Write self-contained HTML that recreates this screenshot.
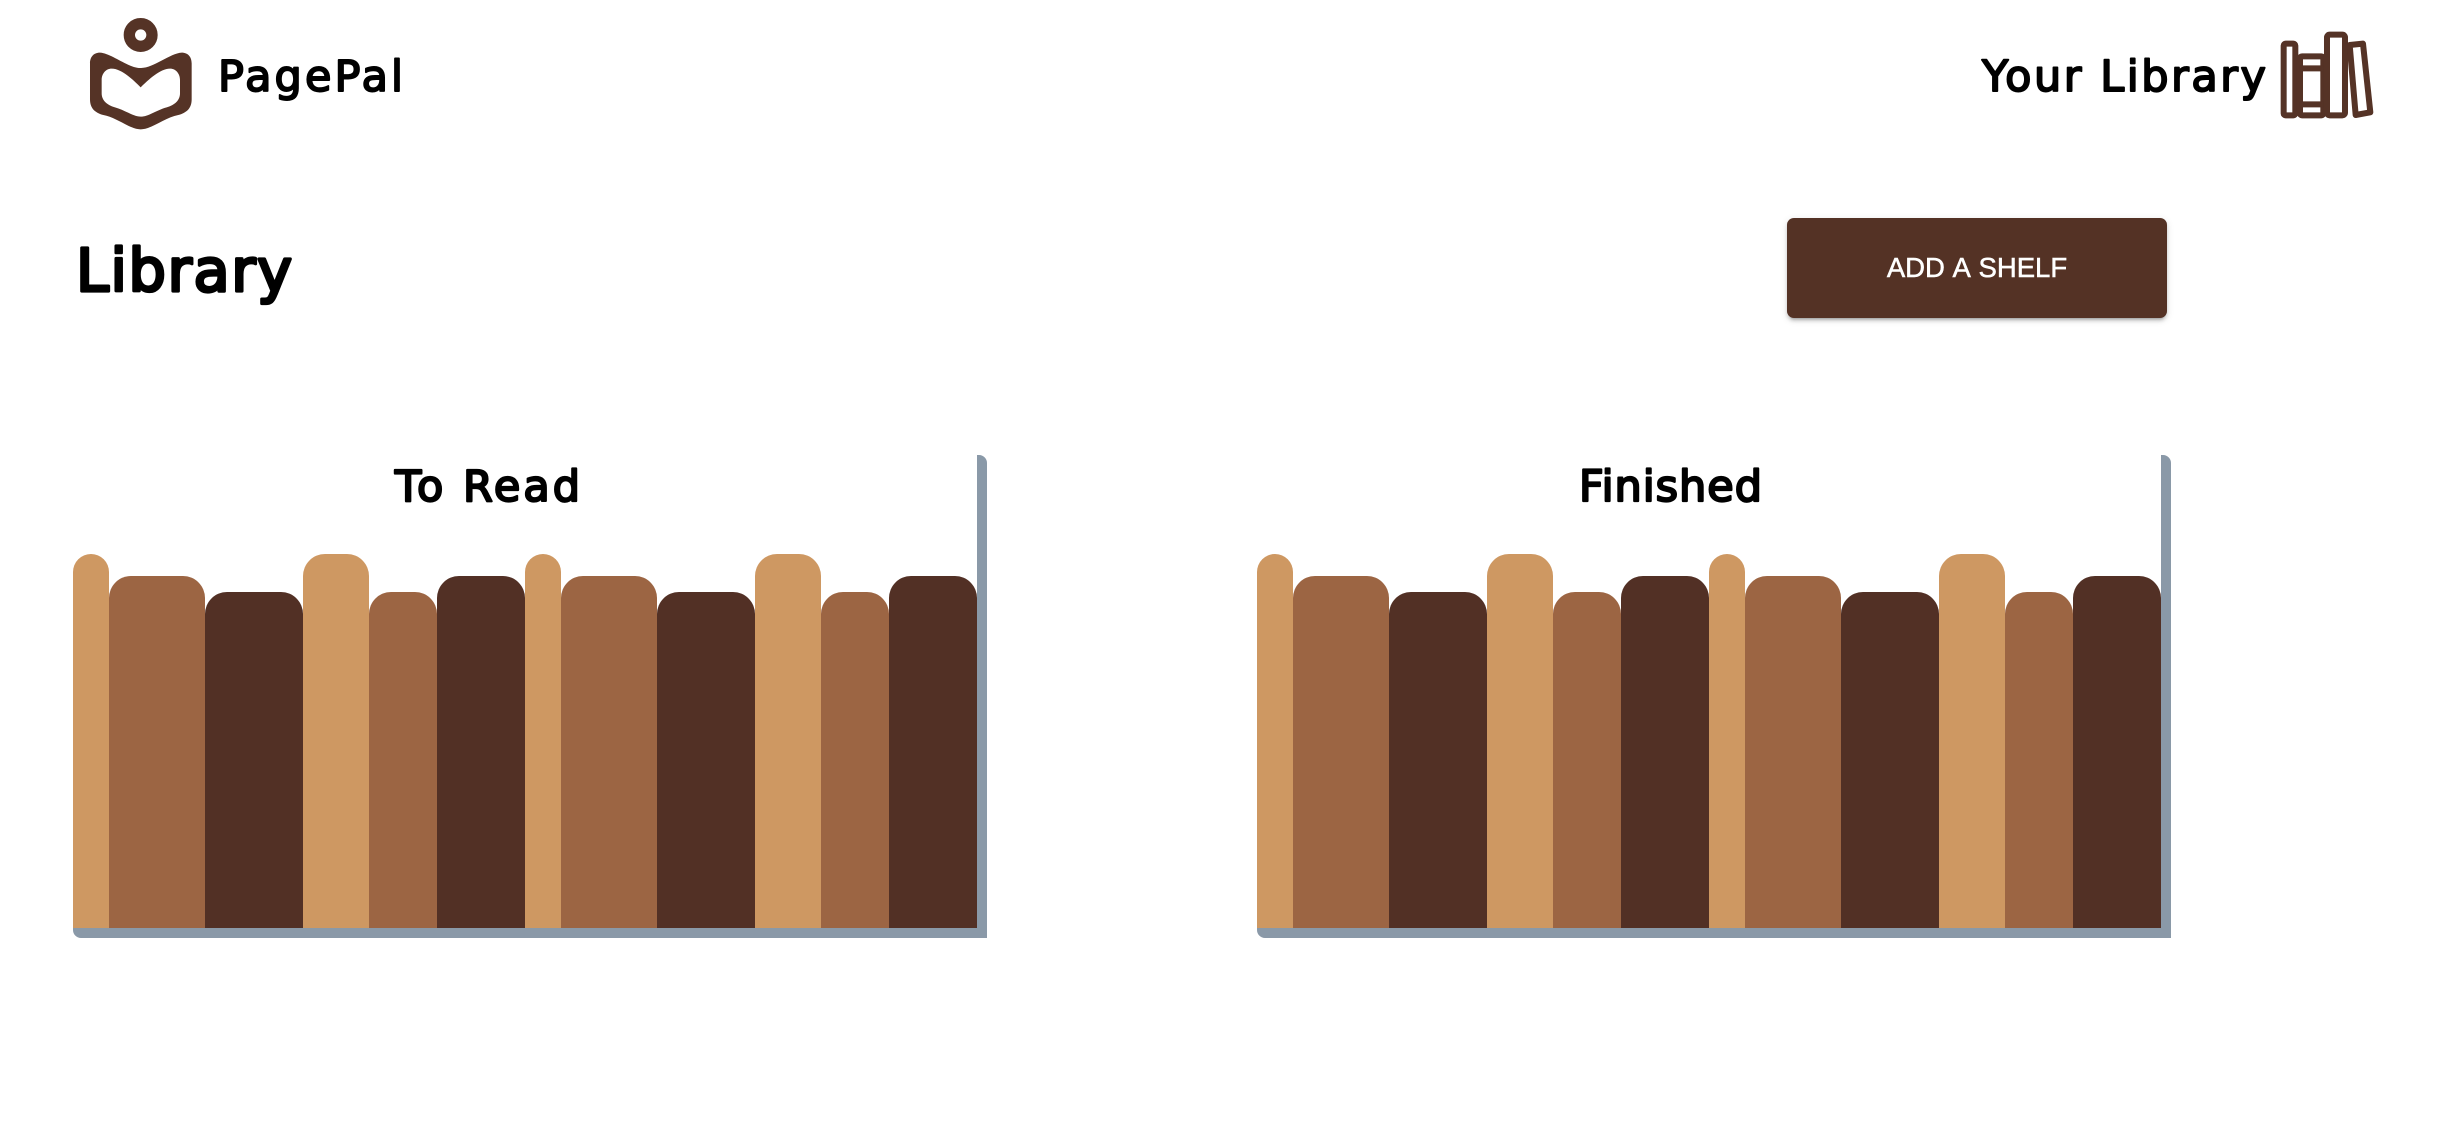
<!DOCTYPE html>
<html lang="en">
<head>
<meta charset="utf-8">
<title>PagePal Library</title>
<style>
  html, body { margin: 0; padding: 0; background: #fff; }
  body { width: 2453px; height: 1128px; overflow: hidden; position: relative; font-family: "Liberation Sans", sans-serif; }
  #page { position: absolute; left: 0; top: 0; width: 2453px; height: 1128px; display: block; }
  .txt { font-family: "DejaVu Sans", "Liberation Sans", sans-serif; fill: #000; stroke: #000; stroke-linejoin: round; stroke-linecap: round; }
  .brand { font-size: 43px; stroke-width: 1.9px; }
  .heading { font-size: 59px; stroke-width: 3.2px; }
  .shelf-title { font-size: 43px; stroke-width: 2.2px; }
  .tone-0 { fill: #ce9862; }
  .tone-1 { fill: #9c6543; }
  .tone-2 { fill: #523025; }
  .frame { fill: #8a99a8; }
  .logo { fill: #553326; fill-rule: evenodd; }
  .shelf-line { fill: #fff; stroke: #553326; stroke-width: 18; stroke-linejoin: round; }
  #add-shelf {
    position: absolute; left: 1787px; top: 218px; width: 380px; height: 100px;
    border: 0; border-radius: 7px; background: #543225; color: #fff; padding: 0;
    font: 27.5px "Liberation Sans", sans-serif; font-kerning: none; letter-spacing: 0; line-height: 100px;
    -webkit-text-stroke: 0.5px #fff; text-align: center;
    box-shadow: 0 4px 2px -3px rgba(0,0,0,.2), 0 3px 3px 0 rgba(0,0,0,.14), 0 2px 8px 0 rgba(0,0,0,.12);
  }
</style>
</head>
<body>
<svg id="page" viewBox="0 0 2453 1128" xmlns="http://www.w3.org/2000/svg">
  <g transform="translate(50 0) scale(0.33333)">
    <circle cx="272" cy="105" r="34" fill="none" stroke="#553326" stroke-width="34"/>
    <path class="logo" d="M150 158 C185 160 235 205 272 204 C310 205 360 160 395 158 C415 158 425 172 425 190 L425 298 C425 325 410 338 385 345 C345 352 305 388 272 388 C240 388 200 352 160 345 C135 338 120 325 120 298 L120 190 C120 172 130 158 150 158 Z M185 206 C215 206 250 240 272 262 C295 240 330 206 360 206 C378 206 390 222 390 240 L390 280 C390 300 375 315 350 322 C320 330 295 350 272 350 C250 350 225 330 195 322 C170 315 155 300 155 280 L155 240 C155 222 167 206 185 206 Z"/>
  </g>
  <text class="txt brand" x="218" y="91" textLength="185" lengthAdjust="spacing">PagePal</text>
  <text class="txt brand" x="1982" y="91" textLength="284" lengthAdjust="spacing">Your Library</text>
  <g transform="translate(1950 10) scale(0.33333)">
    <rect class="shelf-line" x="1001" y="101" width="35" height="215" rx="6"/>
    <polygon class="shelf-line" points="1199,105 1239,101 1261,307 1217,315"/>
    <rect class="shelf-line" x="1050" y="139" width="70" height="177" rx="6"/>
    <line class="shelf-line" x1="1050" y1="175" x2="1120" y2="175"/>
    <line class="shelf-line" x1="1050" y1="283" x2="1120" y2="283"/>
    <rect class="shelf-line" x="1131" y="74" width="54" height="242" rx="8"/>
  </g>
  <text class="txt heading" x="76" y="291" textLength="216" lengthAdjust="spacing">Library</text>
  <text class="txt shelf-title" x="395" y="501" textLength="185" lengthAdjust="spacing">To Read</text>
  <text class="txt shelf-title" x="1579" y="501" textLength="183" lengthAdjust="spacing">Finished</text>
  <g id="shelves"></g>
</svg>
<button id="add-shelf">ADD A SHELF</button>
<script>
const bookCategories = ['book-1','book-2','book-3','book-4','book-5','book-6','book-7','book-8','book-9','book-10','book-11','book-12'];
const toReadHeights = [374,352,336,374,336,352,374,352,336,374,336,352];
const toReadThickness = [36,96,98,66,68,88,36,96,98,66,68,88];
const finishedHeights = [374,352,336,374,336,352,374,352,336,374,336,352];
const finishedThickness = [36,96,98,66,68,88,36,96,98,66,68,88];

const SVG_NS = 'http://www.w3.org/2000/svg';
const shelfFloorY = 928;
const shelfTopY = 455;
const cornerRadius = 22;
const frameSize = 10;

function yScale(value) {
  return shelfFloorY - value;
}
function xScale(originX, thickness, index) {
  let x = originX;
  for (let i = 0; i < index; i++) {
    x += thickness[i];
  }
  return x;
}
function bookPath(x, w, top) {
  const r = Math.min(cornerRadius, w / 2);
  return 'M' + x + ' ' + shelfFloorY +
    ' L' + x + ' ' + (top + r) +
    ' A' + r + ' ' + r + ' 0 0 1 ' + (x + r) + ' ' + top +
    ' L' + (x + w - r) + ' ' + top +
    ' A' + r + ' ' + r + ' 0 0 1 ' + (x + w) + ' ' + (top + r) +
    ' L' + (x + w) + ' ' + shelfFloorY + ' Z';
}
function drawShelf(shelfName, originX, heights, thickness) {
  const root = document.getElementById('shelves');
  const group = document.createElementNS(SVG_NS, 'g');
  
  
  root.appendChild(group);

  const totalWidth = xScale(originX, thickness, thickness.length);
  const frame = document.createElementNS(SVG_NS, 'path');
  frame.setAttribute('class', 'frame');
  frame.setAttribute('d',
    'M' + originX + ' ' + shelfFloorY +
    ' L' + totalWidth + ' ' + shelfFloorY +
    ' L' + totalWidth + ' ' + shelfTopY +
    ' L' + (totalWidth + 2) + ' ' + shelfTopY +
    ' A8 8 0 0 1 ' + (totalWidth + frameSize) + ' ' + (shelfTopY + 8) +
    ' L' + (totalWidth + frameSize) + ' ' + (shelfFloorY + frameSize) +
    ' L' + (originX + 8) + ' ' + (shelfFloorY + frameSize) +
    ' A8 8 0 0 1 ' + originX + ' ' + (shelfFloorY + 2) + ' Z');
  
  
  group.appendChild(frame);

  heights.forEach(function (value, i) {
    const book = document.createElementNS(SVG_NS, 'path');
    book.setAttribute('class', 'tone-' + (i % 3));
    book.setAttribute('d', bookPath(xScale(originX, thickness, i), thickness[i], yScale(value)));
    
    
    group.appendChild(book);
  });
}
drawShelf('to-read-shelf', 73, toReadHeights, toReadThickness);
drawShelf('finished-shelf', 1257, finishedHeights, finishedThickness);
</script>
</body>
</html>
